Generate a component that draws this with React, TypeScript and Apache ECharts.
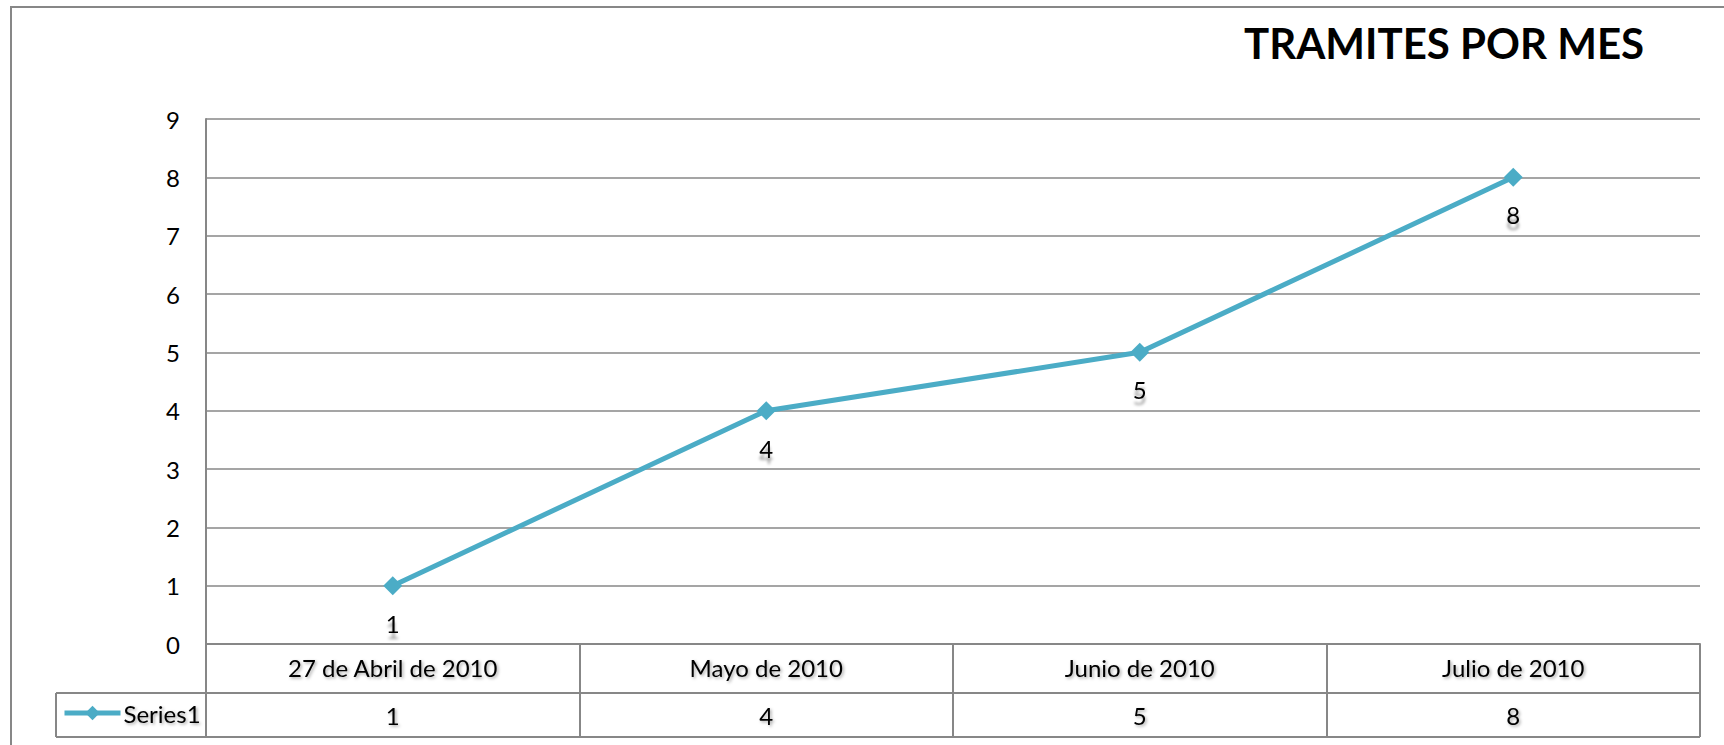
import React, { useEffect, useRef } from "react";
import * as echarts from "echarts";

const TITLE = "TRAMITES POR MES";
const SERIES_NAME = "Series1";
const categories = ["27 de Abril de 2010", "Mayo de 2010", "Junio de 2010", "Julio de 2010"];
const values = [1, 4, 5, 8];
const yTicks = { min: 0, max: 9, interval: 1 };

const W = 1724;
const H = 745;
const FONT = "Lato";
const GRAY = "#878787";
const TEAL = "#4BACC6";

const shadow = {
  textShadowColor: "rgba(0,0,0,0.35)",
  textShadowBlur: 3,
  textShadowOffsetX: 1.5,
  textShadowOffsetY: 1.5,
};

export default function App() {
  const ref = useRef<HTMLDivElement>(null);
  useEffect(() => {
    if (!ref.current) return;
    const chart = echarts.init(ref.current, undefined, { renderer: "svg" });
    const gridLeft = 206;
    const gridRight = 1700;
    const gridTop = 119;
    const gridBottom = 644;
    const row1 = 693;
    const row2 = 737;
    const legendLeft = 56;
    chart.setOption({
      animation: false,
      backgroundColor: "#ffffff",
      title: {
        text: TITLE,
        left: 1244,
        top: 22,
        padding: 0,
        textStyle: { fontFamily: FONT, fontWeight: "bold", fontSize: 42, color: "#000" },
      },
      legend: {
        data: [SERIES_NAME],
        left: 62,
        top: 701,
        padding: 0,
        itemWidth: 56,
        itemHeight: 18,
        itemGap: 4,
        lineStyle: { width: 5, color: TEAL },
        textStyle: { fontFamily: FONT, fontSize: 24, color: "#000", padding: [0, 0, 0, -2], ...shadow },
      },
      grid: {
        left: gridLeft,
        right: W - gridRight,
        top: gridTop,
        bottom: H - gridBottom,
        containLabel: false,
      },
      xAxis: [
        {
          type: "category",
          data: categories,
          boundaryGap: true,
          axisLine: { show: true, lineStyle: { color: GRAY, width: 2 } },
          axisTick: { show: true, interval: 0, length: row2 - gridBottom, lineStyle: { color: GRAY, width: 2 } },
          axisLabel: { interval: 0, margin: 11, fontFamily: FONT, fontSize: 24, color: "#000", ...shadow },
          splitLine: { show: false },
        },
        {
          type: "category",
          position: "bottom",
          offset: row1 - gridBottom,
          data: values.map((v) => String(v)),
          boundaryGap: true,
          axisLine: { show: false },
          axisTick: { show: false },
          axisLabel: { interval: 0, margin: 10, fontFamily: FONT, fontSize: 24, color: "#000", ...shadow },
          splitLine: { show: false },
        },
      ],
      yAxis: {
        type: "value",
        min: yTicks.min,
        max: yTicks.max,
        interval: yTicks.interval,
        axisLine: { show: true, lineStyle: { color: GRAY, width: 2 } },
        axisTick: { show: false },
        axisLabel: { margin: 26, fontFamily: FONT, fontSize: 24, color: "#000" },
        splitLine: { show: true, lineStyle: { color: GRAY, width: 1.6 } },
      },
      series: [
        {
          name: SERIES_NAME,
          type: "line",
          xAxisIndex: 0,
          data: values,
          color: TEAL,
          lineStyle: { color: TEAL, width: 5 },
          itemStyle: { color: TEAL },
          symbol: "diamond",
          symbolSize: 19,
          label: {
            show: true,
            position: "bottom",
            distance: 16,
            fontFamily: FONT,
            fontSize: 24,
            color: "#000",
            textShadowColor: "rgba(0,0,0,0.4)",
            textShadowBlur: 3,
            textShadowOffsetX: 0,
            textShadowOffsetY: 6,
          },
        },
      ],
      graphic: [
        {
          type: "rect",
          shape: { x: 11, y: 7, width: W + 50, height: H + 50 },
          style: { fill: "none", stroke: GRAY, lineWidth: 2 },
          silent: true,
        },
        {
          type: "line",
          shape: { x1: legendLeft, y1: row1, x2: gridRight, y2: row1 },
          style: { stroke: GRAY, lineWidth: 2 },
          silent: true,
        },
        {
          type: "line",
          shape: { x1: legendLeft, y1: row2, x2: gridRight, y2: row2 },
          style: { stroke: GRAY, lineWidth: 2 },
          silent: true,
        },
        {
          type: "line",
          shape: { x1: legendLeft, y1: row1, x2: legendLeft, y2: row2 },
          style: { stroke: GRAY, lineWidth: 2 },
          silent: true,
        },
      ],
    });
    return () => chart.dispose();
  }, []);
  return (
    <div
      ref={ref}
      style={{ position: "fixed", left: 0, top: 0, width: W, height: H, background: "#fff" }}
    />
  );
}
